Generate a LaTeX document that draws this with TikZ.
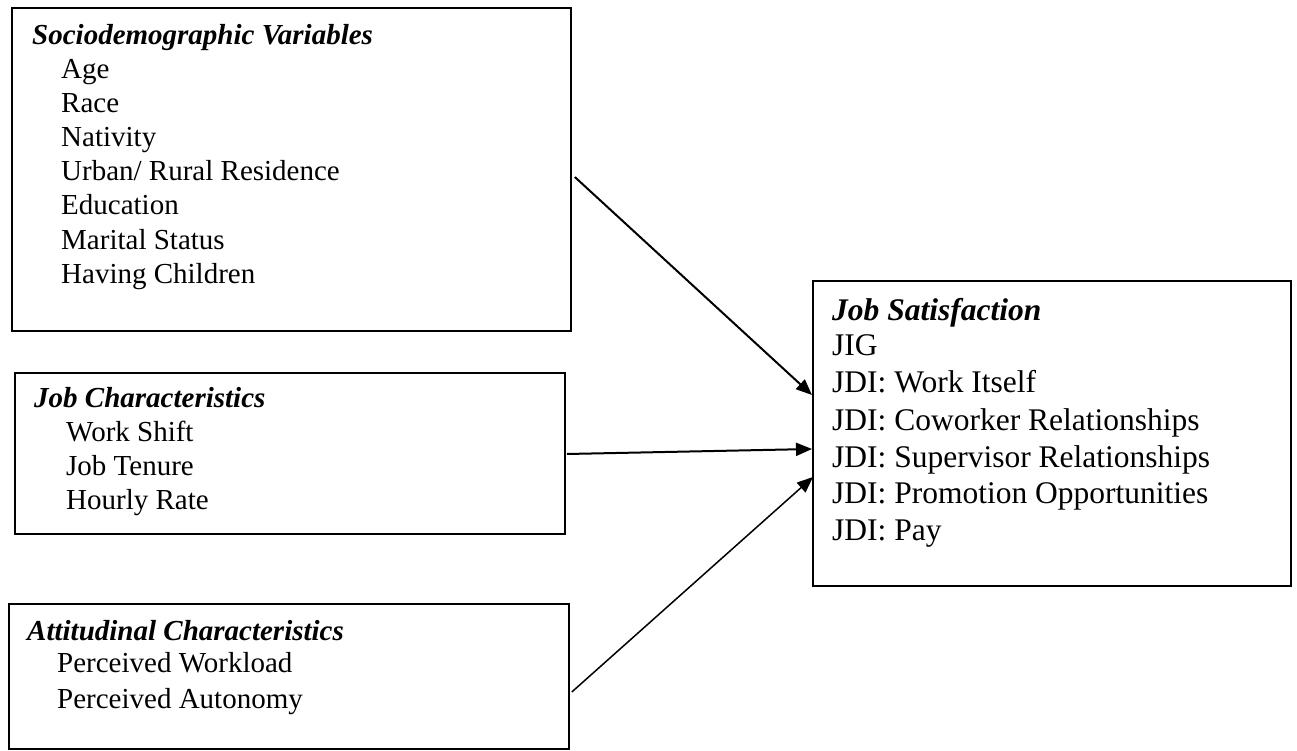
\documentclass[tikz,border=0pt]{standalone}
\usepackage{fontspec}
\setmainfont{Liberation Serif}
\usetikzlibrary{arrows.meta}
\begin{document}
\begin{tikzpicture}[x=1pt,y=-1pt,
  boxnode/.style={draw, line width=1.8pt, rectangle, inner sep=0pt, anchor=north west},
  itemtext/.style={anchor=base west, inner sep=0pt, font=\fontsize{29}{34}\selectfont},
  headtext/.style={anchor=base west, inner sep=0pt, font=\fontsize{29}{34}\selectfont\bfseries\itshape},
  bigtext/.style={anchor=base west, inner sep=0pt, font=\fontsize{31.5}{37}\selectfont},
  bighead/.style={anchor=base west, inner sep=0pt, font=\fontsize{31.5}{37}\selectfont\bfseries\itshape},
  arr/.style={line width=2pt, -{Triangle[length=16pt,width=13pt]}}]
\useasboundingbox (0,0) rectangle (1297,751);
% boxes
\node[boxnode, minimum width=559pt, minimum height=323pt] (b1) at (11,7) {};
\node[boxnode, minimum width=550pt, minimum height=161pt] (b2) at (14,372) {};
\node[boxnode, minimum width=560pt, minimum height=145pt] (b3) at (8,603) {};
\node[boxnode, minimum width=478pt, minimum height=305pt] (b4) at (812,280) {};
% box 1 text
\node[headtext] (h1) at (32,45) {Sociodemographic Variables};
\node[itemtext] (s1) at (61,79) {Age};
\node[itemtext] (s2) at (61,113) {Race};
\node[itemtext] (s3) at (61,147) {Nativity};
\node[itemtext] (s4) at (61,181) {Urban/ Rural Residence};
\node[itemtext] (s5) at (61,215) {Education};
\node[itemtext] (s6) at (61,249) {Marital Status};
\node[itemtext] (s7) at (61,283) {Having Children};
% box 2 text
\node[headtext] (h2) at (34,407) {Job Characteristics};
\node[itemtext] (j1) at (66,441) {Work Shift};
\node[itemtext] (j2) at (66,475) {Job Tenure};
\node[itemtext] (j3) at (66,509) {Hourly Rate};
% box 3 text
\node[headtext] (h3) at (27,640) {Attitudinal Characteristics};
\node[itemtext] (a1) at (57,672) {Perceived Workload};
\node[itemtext] (a2) at (57,708) {Perceived Autonomy};
% box 4 text
\node[bighead] (h4) at (832,320) {Job Satisfaction};
\node[bigtext] (o1) at (832,355) {JIG};
\node[bigtext] (o2) at (832,392) {JDI: Work Itself};
\node[bigtext] (o3) at (832,430) {JDI: Coworker Relationships};
\node[bigtext] (o4) at (832,467) {JDI: Supervisor Relationships};
\node[bigtext] (o5) at (832,503) {JDI: Promotion Opportunities};
\node[bigtext] (o6) at (832,540) {JDI: Pay};
% arrows
\draw[arr] ([shift={(3,170)}]b1.north east) -- ([shift={(0,115)}]b4.north west);
\draw[arr] ([shift={(1,82)}]b2.north east) -- ([shift={(0,169)}]b4.north west);
\draw[arr, line width=1.5pt] ([shift={(2,89)}]b3.north east) -- ([shift={(1,197)}]b4.north west);
\end{tikzpicture}
\end{document}
